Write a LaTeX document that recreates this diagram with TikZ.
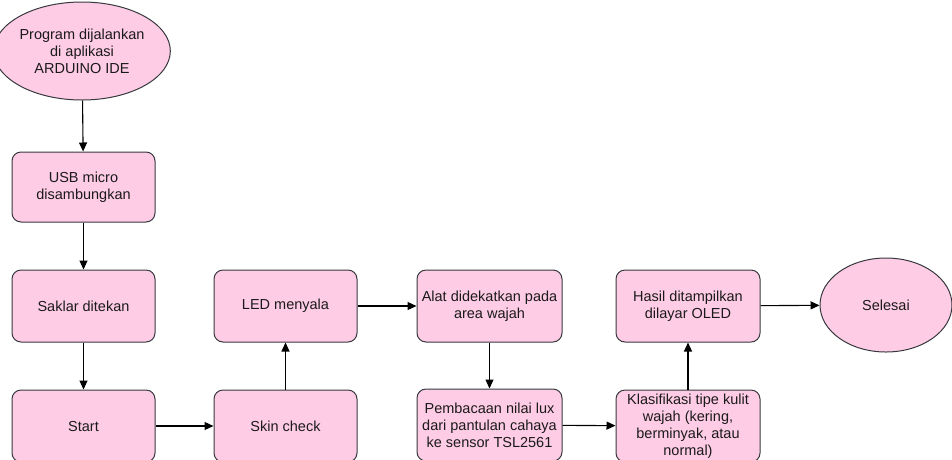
\documentclass[tikz,border=0pt]{standalone}
\usepackage{fontspec}
\setmainfont{Liberation Sans}
\usetikzlibrary{arrows.meta,shapes.geometric}
\definecolor{pinkfill}{HTML}{FFCCE6}
\definecolor{edgecol}{HTML}{36393D}
\definecolor{txtcol}{HTML}{1A1A1A}
\tikzset{
  procbox/.style={draw=edgecol, fill=pinkfill, line width=1pt, rounded corners=9pt,
    minimum width=143pt, minimum height=72pt, align=center, inner sep=1pt,
    text=txtcol, font=\fontsize{14.5pt}{17pt}\selectfont},
  termell/.style={draw=edgecol, fill=pinkfill, line width=1pt, ellipse, inner sep=0pt,
    align=center, text=txtcol, font=\fontsize{14.5pt}{17pt}\selectfont},
  conn/.style={draw=black, line width=1.1pt, -{Triangle[length=9pt,width=8pt]}}
}
\begin{document}
\begin{tikzpicture}[x=1pt,y=-1pt]
\useasboundingbox (0,0) rectangle (952,459);
\clip (0,0) rectangle (952,459);
\node[termell, minimum width=140pt, minimum height=98pt] (prog) at (82,51) {Program dijalankan\\di aplikasi\\ARDUINO IDE};
\node[procbox, minimum height=70pt] (usb) at (83.5,187) {USB micro\\disambungkan};
\node[procbox] (saklar) at (83.5,306) {Saklar ditekan};
\node[procbox] (start) at (83.5,426) {Start};
\node[procbox] (skin) at (285.5,426) {Skin check};
\node[procbox] (led) at (285.5,306) {LED menyala};
\node[procbox, minimum width=145pt] (alat) at (489.5,306) {Alat didekatkan pada\\area wajah};
\node[procbox, minimum width=145pt] (pemb) at (489.5,425) {Pembacaan nilai lux\\dari pantulan cahaya\\ke sensor TSL2561};
\node[procbox, minimum width=144pt] (klas) at (688,426) {Klasifikasi tipe kulit\\wajah (kering,\\berminyak, atau\\normal)};
\node[procbox, minimum width=144pt] (hasil) at (688,306) {Hasil ditampilkan\\dilayar OLED};
\node[termell, minimum width=132pt, minimum height=94pt] (sel) at (886,305) {Selesai};
\draw[conn] (prog) -- (usb);
\draw[conn] (usb) -- (saklar);
\draw[conn] (saklar) -- (start);
\draw[conn] (start) -- (skin);
\draw[conn] (skin) -- (led);
\draw[conn] (led) -- (alat);
\draw[conn] (alat) -- (pemb);
\draw[conn] (pemb) -- (klas);
\draw[conn] (klas) -- (hasil);
\draw[conn] (hasil) -- (sel);
\end{tikzpicture}
\end{document}
